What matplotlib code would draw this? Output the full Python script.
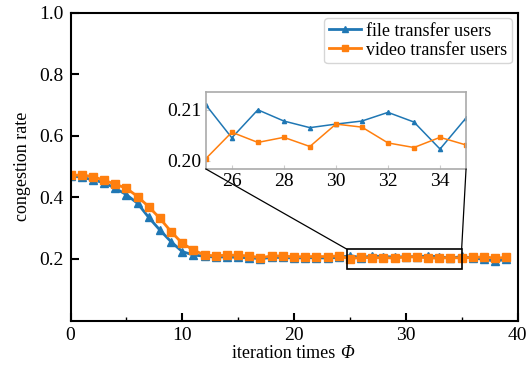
import matplotlib
matplotlib.use("Agg")
import matplotlib.pyplot as plt
from matplotlib.patches import Rectangle, ConnectionPatch

plt.rcParams['font.family'] = ['Liberation Serif', 'DejaVu Serif']

iters = list(range(40))
file_users = [0.470, 0.466, 0.457, 0.448, 0.430, 0.409, 0.381, 0.335, 0.294, 0.256,
              0.224, 0.213, 0.209, 0.206, 0.207, 0.205, 0.204, 0.201, 0.205, 0.205,
              0.203, 0.204, 0.204, 0.203, 0.205, 0.211, 0.2045, 0.210, 0.2078, 0.2065,
              0.2072, 0.2078, 0.2095, 0.2076, 0.2023, 0.2084, 0.203, 0.199, 0.193, 0.199]
video_users = [0.472, 0.473, 0.468, 0.456, 0.443, 0.430, 0.403, 0.370, 0.332, 0.289,
               0.251, 0.229, 0.213, 0.210, 0.213, 0.212, 0.210, 0.204, 0.210, 0.210,
               0.207, 0.208, 0.208, 0.208, 0.210, 0.2004, 0.2056, 0.2036, 0.2046, 0.2028,
               0.2072, 0.2066, 0.2035, 0.2026, 0.2046, 0.2031, 0.205, 0.207, 0.203, 0.205]
labels = ['file transfer users', 'video transfer users']
xlabel_text = 'iteration times '
xlabel_symbol = 'Φ'
ylabel_text = 'congestion rate'
xticks = [0, 10, 20, 30, 40]
yticks = [0.2, 0.4, 0.6, 0.8, 1.0]
inset_xticks = [26, 28, 30, 32, 34]
inset_yticks = [0.20, 0.21]

blue = '#1f77b4'
orange = '#ff7f0e'

fig = plt.figure(figsize=(5.29, 3.68), dpi=100)
ax = fig.add_axes([0.1333, 0.129, 0.845, 0.836])
ax.plot(iters, file_users, color=blue, marker='^', markersize=6, linewidth=2, label=labels[0])
ax.plot(iters, video_users, color=orange, marker='s', markersize=6, linewidth=2, label=labels[1])
ax.set_xlim(0, 40)
ax.set_ylim(0, 1.0)
ax.set_xticks(xticks)
ax.set_xticks([5, 15, 25, 35], minor=True)
ax.set_yticks(yticks)
ax.tick_params(axis='both', which='major', direction='in', length=6, width=1.5, labelsize=14, pad=5)
ax.tick_params(axis='x', which='minor', direction='in', length=3, width=1)
for s in ax.spines.values():
    s.set_linewidth(1.5)

t1 = ax.text(0.361, -0.078, xlabel_text, transform=ax.transAxes, ha='left', va='top', fontsize=13)
ax.annotate(xlabel_symbol, xy=(1, 0), xycoords=t1, ha='left', va='bottom',
            fontsize=13, fontstyle='italic')
ax.set_ylabel(ylabel_text, fontsize=13, labelpad=6)
leg = ax.legend(loc='upper right', fontsize=13, handlelength=1.8, handletextpad=0.3,
                borderpad=0.25, labelspacing=0.1, borderaxespad=0.3, markerscale=0.8)
leg.get_frame().set_edgecolor('#cccccc')

# zoom rectangle
ax.add_patch(Rectangle((24.7, 0.1675), 10.3, 0.065, fill=False, edgecolor='black', linewidth=1.2, zorder=5))

axin = fig.add_axes([0.389, 0.541, 0.492, 0.209])
axin.plot(iters, file_users, color=blue, marker='^', markersize=3, linewidth=1.1)
axin.plot(iters, video_users, color=orange, marker='s', markersize=3, linewidth=1.1)
axin.set_xlim(25, 35)
axin.set_ylim(0.1984, 0.2135)
axin.set_xticks(inset_xticks)
axin.set_yticks(inset_yticks)
axin.set_yticklabels(['%.2f' % v for v in inset_yticks])
axin.tick_params(axis='both', direction='in', length=3, width=0.8, color='#cccccc', labelsize=14, pad=3)
for s in axin.spines.values():
    s.set_edgecolor('#aaaaaa')
    s.set_linewidth(1.2)

for xa, xb in [((0, 0), (24.7, 0.2325)), ((1, 0), (35, 0.2325))]:
    con = ConnectionPatch(xyA=xa, coordsA=axin.transAxes, xyB=xb, coordsB=ax.transData,
                          color='black', linewidth=0.9)
    fig.add_artist(con)

fig.savefig('out.png', dpi=100)
